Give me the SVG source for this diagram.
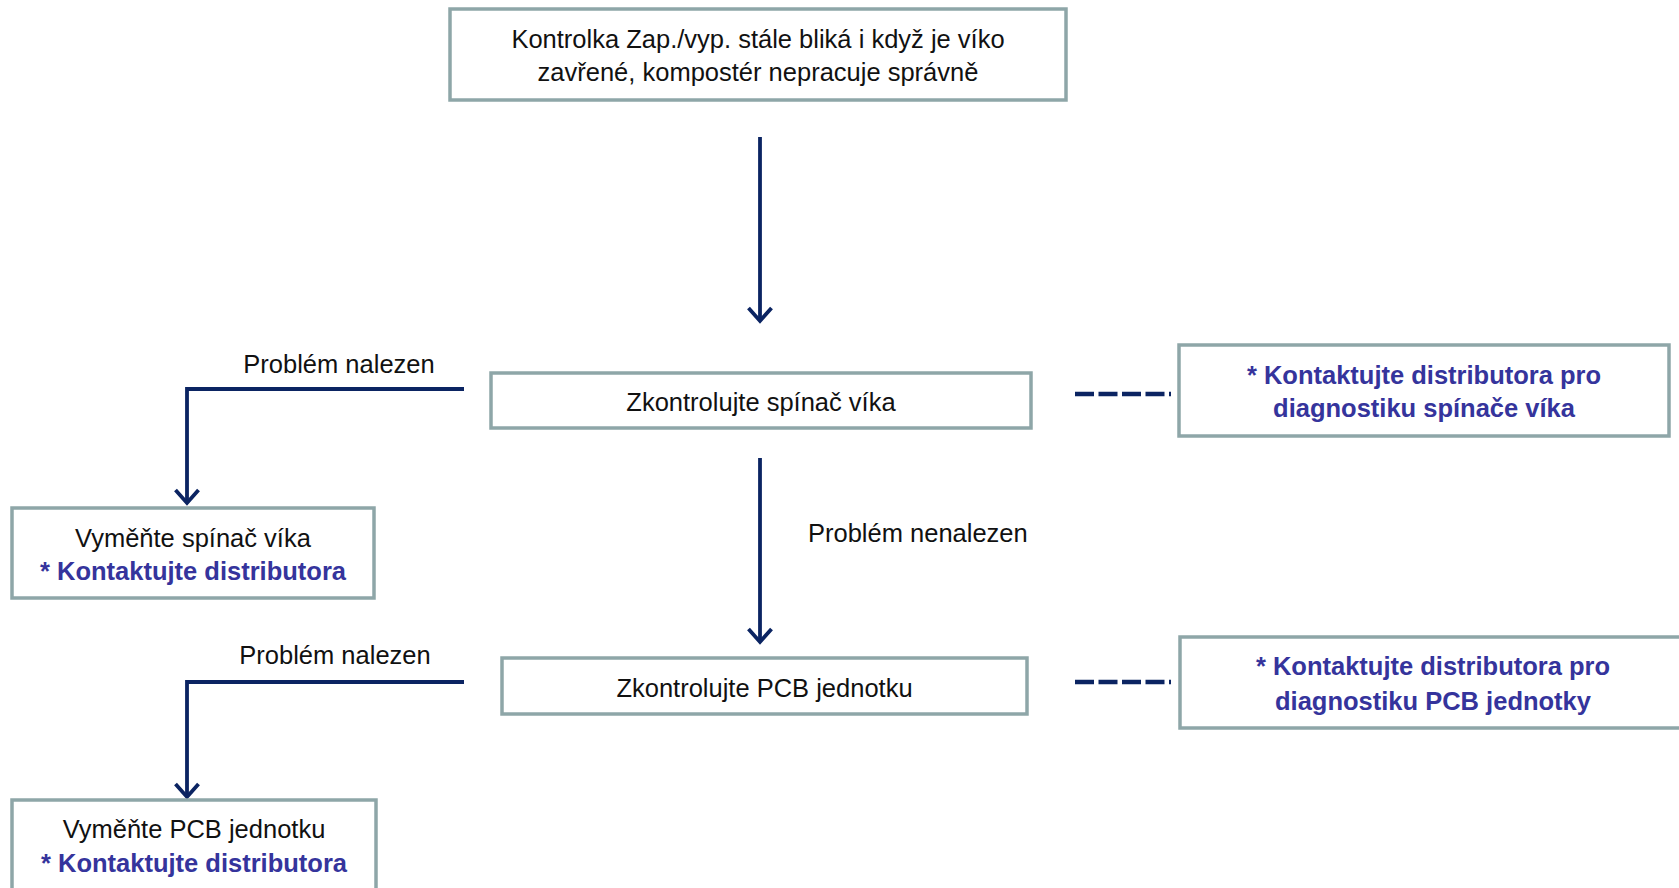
<svg xmlns="http://www.w3.org/2000/svg" width="1679" height="888" viewBox="0 0 1679 888">
<style>
.box{fill:#fff;stroke:#8EA6A8;stroke-width:3.5}
.t{font-family:"Liberation Sans",Arial,sans-serif;font-size:25.5px;fill:#111;text-anchor:middle}
.b{font-weight:bold;fill:#35349C}
.lbl{font-family:"Liberation Sans",Arial,sans-serif;font-size:25.5px;fill:#111}
.c{fill:none;stroke:#0B2462;stroke-width:3.8}
.d{fill:none;stroke:#0B2462;stroke-width:4.5;stroke-dasharray:19 4.5}
</style>
<defs>
<marker id="ah" viewBox="-3 -3 19 29" refX="13" refY="11.5" markerWidth="19" markerHeight="29" markerUnits="userSpaceOnUse" orient="auto">
<path d="M0 0 L13 11.5 L0 23" fill="none" stroke="#0B2462" stroke-width="3.8"/>
</marker>
</defs>
<rect width="1679" height="888" fill="#fff"/>
<g id="connectors">
<path class="c" d="M760 137 V321" marker-end="url(#ah)"/>
<path class="c" d="M464 389 H187 V503" marker-end="url(#ah)"/>
<path class="c" d="M760 458 V642" marker-end="url(#ah)"/>
<path class="c" d="M464 682 H187 V797" marker-end="url(#ah)"/>
<path class="d" d="M1075 394 H1171"/>
<path class="d" d="M1075 682 H1171"/>
<text class="lbl" x="339" y="373" text-anchor="middle">Problém nalezen</text>
<text class="lbl" x="808" y="542">Problém nenalezen</text>
<text class="lbl" x="335" y="664" text-anchor="middle">Problém nalezen</text>
</g>
<g id="start">
<rect class="box" x="450" y="9" width="616" height="91"/>
<text class="t" x="758" y="47.5">Kontrolka Zap./vyp. stále bliká i když je víko</text>
<text class="t" x="758" y="80.5">zavřené, kompostér nepracuje správně</text>
</g>
<g id="check-lid">
<rect class="box" x="491" y="373" width="540" height="55"/>
<text class="t" x="761" y="411">Zkontrolujte spínač víka</text>
</g>
<g id="contact-lid">
<rect class="box" x="1179" y="345" width="490" height="91"/>
<text class="t b" x="1424" y="384">* Kontaktujte distributora pro</text>
<text class="t b" x="1424" y="417">diagnostiku spínače víka</text>
</g>
<g id="replace-lid">
<rect class="box" x="12" y="508" width="362" height="90"/>
<text class="t" x="193" y="546.5">Vyměňte spínač víka</text>
<text class="t b" x="193" y="580">* Kontaktujte distributora</text>
</g>
<g id="check-pcb">
<rect class="box" x="502" y="658" width="525" height="56"/>
<text class="t" x="764.5" y="696.5">Zkontrolujte PCB jednotku</text>
</g>
<g id="contact-pcb">
<rect class="box" x="1180" y="637" width="510" height="91"/>
<text class="t b" x="1433" y="675">* Kontaktujte distributora pro</text>
<text class="t b" x="1433" y="710">diagnostiku PCB jednotky</text>
</g>
<g id="replace-pcb">
<rect class="box" x="12" y="800" width="364" height="100"/>
<text class="t" x="194" y="838">Vyměňte PCB jednotku</text>
<text class="t b" x="194" y="872">* Kontaktujte distributora</text>
</g>
</svg>
